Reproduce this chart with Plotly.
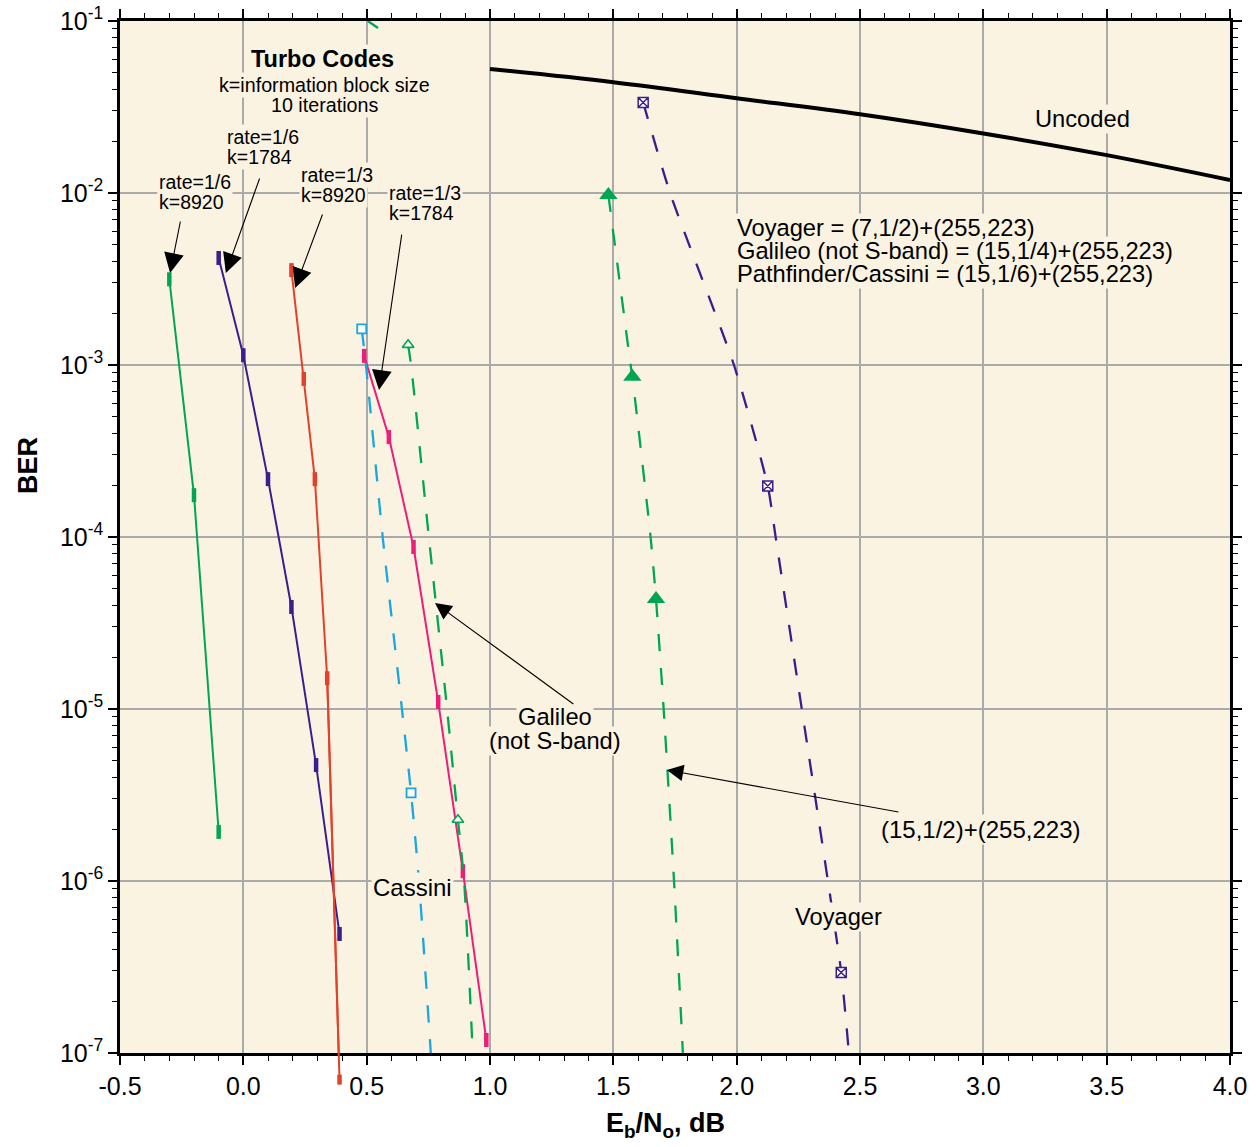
import numpy as np
import plotly.graph_objects as go

# ---------------- data ----------------
# Turbo codes (solid lines, bar markers)
t16_8920_x = [-0.30, -0.20, -0.10]
t16_8920_y = [3.15e-3, 1.75e-4, 1.93e-6]

t16_1784_x = [-0.10, 0.00, 0.10, 0.195, 0.295, 0.39]
t16_1784_y = [4.19e-3, 1.14e-3, 2.17e-4, 3.92e-5, 4.72e-6, 4.92e-7]

t13_8920_x = [0.195, 0.245, 0.29, 0.34, 0.39]
t13_8920_y = [3.56e-3, 8.3e-4, 2.17e-4, 1.51e-5, 7.0e-8]

t13_1784_x = [0.49, 0.59, 0.69, 0.79, 0.89, 0.985]
t13_1784_y = [1.13e-3, 3.81e-4, 8.75e-5, 1.1e-5, 1.14e-6, 1.19e-7]

# Concatenated codes (dashed lines)
cassini_x = [0.48, 0.497, 0.565, 0.643, 0.68, 0.712, 0.76]
cassini_y = [1.62e-3, 1.0e-3, 1.0e-4, 1.0e-5, 3.25e-6, 1.0e-6, 1.0e-7]
cassini_mk = [0, 4]

galileo_x = [0.668, 0.68, 0.752, 0.826, 0.87, 0.895, 0.93]
galileo_y = [1.31e-3, 1.0e-3, 1.0e-4, 1.0e-5, 2.27e-6, 1.0e-6, 1.0e-7]
galileo_mk = [0, 4]

galileo_top_x = [0.505, 0.546]
galileo_top_y = [0.1, 0.091]

c15_x = [1.480, 1.570, 1.577, 1.651, 1.673, 1.704, 1.746, 1.782]
c15_y = [9.73e-3, 1.0e-3, 8.55e-4, 1.0e-4, 4.36e-5, 1.0e-5, 1.0e-6, 1.0e-7]
c15_mk = [0, 2, 4]

voyager_x = [1.621, 1.730, 1.989, 2.126, 2.158, 2.264, 2.370, 2.424, 2.455]
voyager_y = [3.36e-2, 1.0e-2, 1.0e-3, 1.98e-4, 1.0e-4, 1.0e-5, 1.0e-6, 2.94e-7, 1.0e-7]
voyager_mk = [0, 3, 7]

uncoded_x = [1.0, 1.5, 2.0, 2.5, 3.0, 3.5, 4.0]
uncoded_y = [0.0526, 0.0441, 0.0356, 0.0287, 0.0222, 0.0166, 0.0119]

x_ticks = [-0.5, 0.0, 0.5, 1.0, 1.5, 2.0, 2.5, 3.0, 3.5, 4.0]
x_tick_labels = ["-0.5", "0.0", "0.5", "1.0", "1.5", "2.0", "2.5", "3.0", "3.5", "4.0"]
y_exps = [-7, -6, -5, -4, -3, -2, -1]
y_tick_labels = ["10<sup>%d</sup>" % e for e in y_exps]

# ---------------- style ----------------
GREEN = "#00A651"
PURPLE = "#3A1E8E"
RED = "#E2412A"
PINK = "#EC1E7A"
CYAN = "#1AA6E0"
BG = "#FBF3E1"
GRID = "#AAAAAA"
FONT = "Liberation Sans, Arial, Helvetica, sans-serif"
XMIN, XMAX, YMIN, YMAX = -0.5, 4.0, -7, -1
DASH = "17px,17px"

fig = go.Figure()

def solid(x, y, color):
    fig.add_trace(go.Scatter(
        x=x, y=y, mode="lines+markers",
        line=dict(color=color, width=2),
        marker=dict(symbol="line-ns", size=10, line=dict(color=color, width=4.5)),
        showlegend=False, hoverinfo="x+y"))

def dashed(x, y, mk, color, symbol, size, fill, lw=1.6):
    fig.add_trace(go.Scatter(
        x=x, y=y, mode="lines",
        line=dict(color=color, width=2.3, dash=DASH, shape="spline", smoothing=0.6),
        showlegend=False, hoverinfo="x+y"))
    fig.add_trace(go.Scatter(
        x=[x[i] for i in mk], y=[y[i] for i in mk], mode="markers",
        marker=dict(symbol=symbol, size=size, color=fill,
                    line=dict(color=color, width=lw)),
        showlegend=False, hoverinfo="x+y"))

# uncoded
fig.add_trace(go.Scatter(x=uncoded_x, y=uncoded_y, mode="lines",
                         line=dict(color="black", width=4, shape="spline"),
                         showlegend=False))

solid(t16_8920_x, t16_8920_y, GREEN)
solid(t16_1784_x, t16_1784_y, PURPLE)
solid(t13_8920_x, t13_8920_y, RED)
solid(t13_1784_x, t13_1784_y, PINK)

dashed(cassini_x, cassini_y, cassini_mk, CYAN, "square", 9, "white", 1.8)
dashed(galileo_x, galileo_y, galileo_mk, GREEN, "triangle-up", 10, "white", 1.6)
fig.add_trace(go.Scatter(x=galileo_top_x, y=galileo_top_y, mode="lines",
                         line=dict(color=GREEN, width=2.3), showlegend=False))
dashed(c15_x, c15_y, c15_mk, GREEN, "triangle-up", 16, GREEN, 0)
dashed(voyager_x, voyager_y, voyager_mk, PURPLE, "square-x", 10, "white", 1.5)

# red curve continues below the bottom axis (not clipped in the original)
def to_paper(x, y):
    return (x - XMIN) / (XMAX - XMIN), (np.log10(y) - YMIN) / (YMAX - YMIN)

x0p, y0p = to_paper(t13_8920_x[-2], t13_8920_y[-2])
x1p, y1p = to_paper(t13_8920_x[-1], t13_8920_y[-1])
fig.add_shape(type="line", xref="paper", yref="paper", x0=x0p, y0=y0p, x1=x1p, y1=y1p,
              line=dict(color=RED, width=2), layer="above")
fig.add_shape(type="line", xref="paper", yref="paper", xsizemode="pixel", ysizemode="pixel",
              xanchor=x1p, yanchor=y1p, x0=0, x1=0, y0=-5, y1=5,
              line=dict(color=RED, width=4.5), layer="above")

# ---------------- annotations ----------------
bg_ann = []
fg_ann = []

def txt(text, x, y, size=23.7, xanchor="center", bold=False):
    t = ("<b>%s</b>" % text) if bold else text
    common = dict(text=t, x=x, y=y, xref="x", yref="y", xanchor=xanchor,
                  yanchor="middle", showarrow=False, borderpad=1)
    bg_ann.append(dict(common, font=dict(family=FONT, size=size, color="rgba(0,0,0,0)"),
                       bgcolor=BG))
    fg_ann.append(dict(common, font=dict(family=FONT, size=size, color="black")))

txt("Turbo Codes", 0.319, -1.221, size=23.5, bold=True)
txt("k=information block size", 0.331, -1.372, size=19.7)
txt("10 iterations", 0.331, -1.488, size=19.7)
txt("rate=1/6", -0.074, -1.674, size=19.5, xanchor="left")
txt("k=1784", -0.074, -1.791, size=19.5, xanchor="left")
txt("rate=1/6", -0.352, -1.936, size=19.5, xanchor="left")
txt("k=8920", -0.352, -2.052, size=19.5, xanchor="left")
txt("rate=1/3", 0.224, -1.895, size=19.5, xanchor="left")
txt("k=8920", 0.224, -2.012, size=19.5, xanchor="left")
txt("rate=1/3", 0.582, -2.0, size=19.5, xanchor="left")
txt("k=1784", 0.582, -2.116, size=19.5, xanchor="left")
txt("Uncoded", 3.40, -1.570)
txt("Voyager = (7,1/2)+(255,223)", 1.993, -2.203, xanchor="left")
txt("Galileo (not S-band) = (15,1/4)+(255,223)", 1.993, -2.337, xanchor="left")
txt("Pathfinder/Cassini = (15,1/6)+(255,223)", 1.993, -2.471, xanchor="left")
txt("Galileo", 1.263, -5.047)
txt("(not S-band)", 1.263, -5.186)
txt("(15,1/2)+(255,223)", 2.99, -5.698, size=24)
txt("Cassini", 0.684, -6.035, size=24)
txt("Voyager", 2.414, -6.209)

arr_ann = []

def arrow(xt, yt, xs, ys, size=3.6):
    arr_ann.append(dict(text="", x=xt, y=yt, ax=xs, ay=ys, xref="x", yref="y",
                        axref="x", ayref="y", showarrow=True, arrowhead=2,
                        arrowsize=size, arrowwidth=1.1, arrowcolor="black", standoff=0))

arrow(-0.297, -2.465, -0.254, -2.157)
arrow(-0.071, -2.465, 0.068, -1.907)
arrow(0.210, -2.552, 0.323, -2.116)
arrow(0.550, -3.145, 0.643, -2.233)
arrow(0.777, -4.384, 1.344, -4.977, size=3.0)
arrow(1.717, -5.355, 2.662, -5.600, size=3.0)

titles = [
    dict(text="<b>BER</b>", x=-0.0829, y=0.5698, xref="paper", yref="paper",
         textangle=-90, showarrow=False, xanchor="center", yanchor="middle",
         font=dict(family=FONT, size=27, color="black")),
    dict(text="<b>E<sub>b</sub>/N<sub>o</sub>, dB</b>", x=0.491, y=-0.0698,
         xref="paper", yref="paper", showarrow=False, xanchor="center",
         yanchor="middle", font=dict(family=FONT, size=27, color="black")),
]

y_minor = [k * 10.0 ** e for e in y_exps[:-1] for k in range(2, 10)]

fig.update_layout(
    width=1256, height=1147,
    margin=dict(l=120, r=26, t=21, b=94, autoexpand=False),
    paper_bgcolor="white", plot_bgcolor=BG,
    annotations=bg_ann + fg_ann + arr_ann + titles,
    font=dict(family=FONT, color="black"),
    xaxis=dict(range=[XMIN, XMAX], tickmode="array", tickvals=x_ticks, ticktext=x_tick_labels,
               automargin=False,
               showgrid=True, gridcolor=GRID, gridwidth=2, zeroline=False,
               showline=True, linecolor="black", linewidth=2.5, mirror="allticks",
               ticks="outside", ticklen=9, tickwidth=1.5, tickcolor="black",
               tickfont=dict(family=FONT, size=25, color="black"),
               minor=dict(dtick=0.1, tick0=0, ticks="outside", ticklen=5, tickwidth=1.2,
                          tickcolor="black", showgrid=False)),
    yaxis=dict(type="log", range=[YMIN, YMAX], tickmode="array",
               tickvals=[10.0 ** e for e in y_exps], ticktext=y_tick_labels,
               automargin=False,
               showgrid=True, gridcolor=GRID, gridwidth=2, zeroline=False,
               showline=True, linecolor="black", linewidth=2.5, mirror="allticks",
               ticks="outside", ticklen=9, tickwidth=1.5, tickcolor="black",
               tickfont=dict(family=FONT, size=25, color="black"),
               minor=dict(tickmode="array", tickvals=y_minor, ticks="outside", ticklen=5,
                          tickwidth=1.2, tickcolor="black", showgrid=False)),
)

fig.write_html("out.html", config={"displayModeBar": False},
               post_script="document.body.style.margin='0';")
